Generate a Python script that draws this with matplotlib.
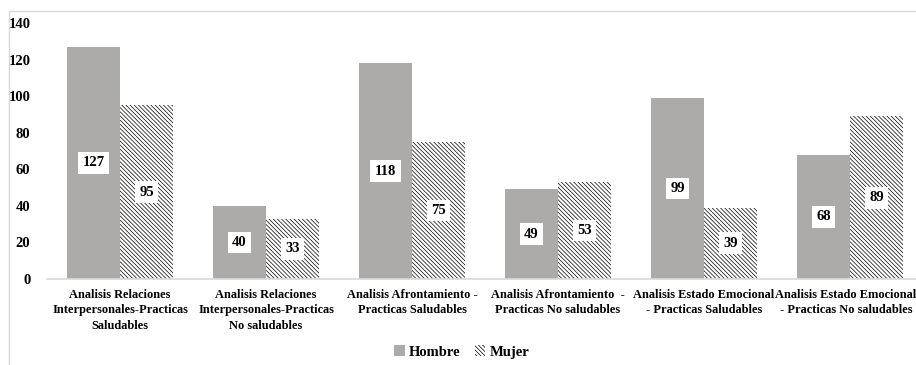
import matplotlib
matplotlib.use("Agg")
import matplotlib.pyplot as plt
from matplotlib.patches import Rectangle
from matplotlib.transforms import ScaledTranslation
import numpy as np

categories = [
    "Analisis Relaciones\nInterpersonales-Practicas\nSaludables",
    "Analisis Relaciones\nInterpersonales-Practicas\nNo saludables",
    "Analisis Afrontamiento -\nPracticas Saludables",
    "Analisis Afrontamiento  -\nPracticas No saludables",
    "Analisis Estado Emocional\n- Practicas Saludables",
    "Analisis Estado Emocional\n- Practicas No saludables",
]
hombre = [127, 40, 118, 49, 99, 68]
mujer = [95, 33, 75, 53, 39, 89]
yticks = [0, 20, 40, 60, 80, 100, 120, 140]

plt.rcParams["font.family"] = ["Liberation Serif", "DejaVu Serif"]
plt.rcParams["font.weight"] = "bold"
plt.rcParams["hatch.linewidth"] = 0.5

fig = plt.figure(figsize=(9.16, 3.65), dpi=100)
ax = fig.add_axes([47 / 916, 1 - 279 / 365, 876 / 916, (279 - 23) / 365])

x = np.arange(len(categories))
w = 0.363
gray = "#ADAAAA"

b1 = ax.bar(x - w / 2, hombre, w, color=gray, edgecolor="none", label="Hombre")
b2 = ax.bar(x + w / 2, mujer, w, color="white", edgecolor="black",
            linewidth=0, hatch="\\" * 8, label="Mujer")

box = dict(boxstyle="square,pad=0.3", facecolor="white", edgecolor="none")
for bars, vals in ((b1, hombre), (b2, mujer)):
    for r, v in zip(bars, vals):
        ax.text(r.get_x() + r.get_width() / 2, v / 2, str(v), ha="center",
                va="center", fontsize=10.5, fontweight="bold", bbox=box)

ax.set_xlim(-0.5, len(categories) - 0.5)
ax.set_ylim(0, 140)
ax.set_yticks(yticks)
ax.set_xticks(x)
ax.set_xticklabels(categories, fontsize=8.9, fontweight="bold", linespacing=1.4)
ax.tick_params(axis="y", length=0, pad=12, labelsize=10.5)
ax.tick_params(axis="x", length=0, pad=7)
for s in ("top", "right", "left"):
    ax.spines[s].set_visible(False)
ax.spines["bottom"].set_color("#D9D9D9")
ax.spines["bottom"].set_linewidth(1.2)

# keep the rightmost category label inside the canvas
last = ax.get_xticklabels()[-1]
last.set_transform(last.get_transform() + ScaledTranslation(-0.04, 0, fig.dpi_scale_trans))

fig.legend(handles=[b1, b2], labels=["Hombre", "Mujer"], loc="center",
           bbox_to_anchor=(462 / 916, 1 - 352 / 365), ncol=2, frameon=False,
           fontsize=10.5, handlelength=0.7, handleheight=0.7, handletextpad=0.3,
           columnspacing=1.0)

fig.patches.append(Rectangle((9 / 916, -0.1), 1.2, 1 - 11 / 365 + 0.1,
                             transform=fig.transFigure, fill=False,
                             edgecolor="#D9D9D9", linewidth=1.0, zorder=-1))

fig.savefig("out.png", dpi=100)
